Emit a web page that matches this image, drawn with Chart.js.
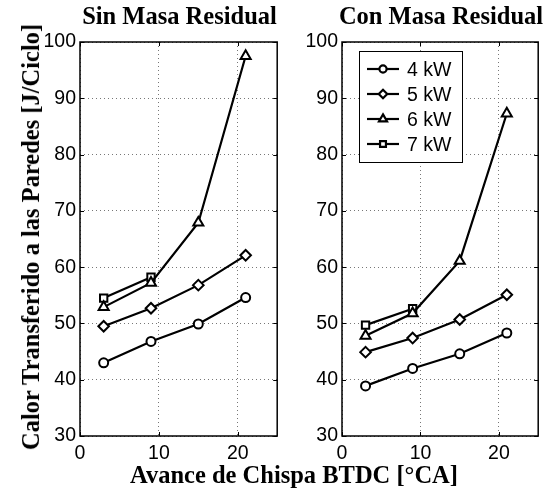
<!DOCTYPE html>
<html>
<head>
<meta charset="utf-8">
<script src="https://cdn.jsdelivr.net/npm/chart.js@4/dist/chart.umd.min.js"></script>
<style>
  body { margin: 0; background: #fff; }
  #wrap { position: relative; width: 546px; height: 495px; background: #fff; overflow: hidden; }
  canvas.panel { position: absolute; top: 0; }
  .titulo { position: absolute; font-family: "Liberation Serif", "Times New Roman", serif; font-weight: bold; font-size: 24.5px; line-height: 24px; color: #000; white-space: nowrap; }
  #leyenda { position: absolute; left: 359px; top: 51px; width: 102px; height: 110px; border: 1px solid #000; background: #fff; }
  .fila { position: absolute; left: 0; height: 20px; display: flex; align-items: center; }
  .fila span { font-family: "Liberation Sans", Arial, sans-serif; font-size: 19.5px; color: #000; margin-left: 7px; }
</style>
</head>
<body>
<div id="wrap">
  <canvas id="sinMasa" class="panel" width="285" height="495" style="left:0px"></canvas>
  <canvas id="conMasa" class="panel" width="261" height="495" style="left:285px"></canvas>

  <div class="titulo" style="left:179.5px; top:4px; transform:translateX(-50%)">Sin Masa Residual</div>
  <div class="titulo" style="left:441px; top:4px; transform:translateX(-50%)">Con Masa Residual</div>
  <div class="titulo" style="left:31px; top:237px; transform:translate(-50%,-50%) rotate(-90deg)">Calor Transferido a las Paredes [J/Ciclo]</div>
  <div class="titulo" style="left:294px; top:463px; transform:translateX(-50%)">Avance de Chispa BTDC [°CA]</div>

  <div id="leyenda"></div>
</div>

<script>
// ---------------- DATA ----------------
const avanceChispa = [3, 9, 15, 21];
const potencias = ["4 kW", "5 kW", "6 kW", "7 kW"];

const sinMasa4kW = [43.0, 46.8, 49.9, 54.6];
const sinMasa5kW = [49.5, 52.7, 56.8, 62.1];
const sinMasa6kW = [52.9, 57.2, 67.9, 97.5];
const sinMasa7kW = [54.5, 58.2];

const conMasa4kW = [38.9, 42.0, 44.6, 48.3];
const conMasa5kW = [44.9, 47.4, 50.7, 55.1];
const conMasa6kW = [47.8, 51.8, 61.1, 87.3];
const conMasa7kW = [49.7, 52.6];

const xTicks = [0, 10, 20];
const yTicks = [30, 40, 50, 60, 70, 80, 90, 100];

// ---------------- STYLE ----------------
const marcadores = ["circle", "rectRot", "triangle", "rect"];
const radios = [4.5, 5.3, 5.8, 5.2];

function puntos(valores) {
    return valores.map((v, i) => ({ x: avanceChispa[i], y: v }));
}

function datasets(series) {
    return series.map((valores, i) => ({
        label: potencias[i],
        data: puntos(valores),
        borderColor: "#000",
        borderWidth: 2.2,
        backgroundColor: "#fff",
        pointStyle: marcadores[i],
        pointRadius: radios[i],
        pointBorderWidth: 2,
        pointBackgroundColor: "#fff",
        pointBorderColor: "#000",
        tension: 0
    }));
}

// frame around the axes plus inward tick marks, like the original
const marcoPlugin = {
    id: "marco",
    afterDraw(chart) {
        const { ctx, chartArea: a, scales } = chart;
        ctx.save();
        ctx.strokeStyle = "#000";
        ctx.lineWidth = 1.5;
        ctx.strokeRect(a.left, a.top, a.right - a.left, a.bottom - a.top);
        ctx.lineWidth = 1;
        ctx.beginPath();
        xTicks.forEach(v => {
            const px = Math.round(scales.x.getPixelForValue(v)) + 0.5;
            ctx.moveTo(px, a.top); ctx.lineTo(px, a.top + 4);
            ctx.moveTo(px, a.bottom); ctx.lineTo(px, a.bottom - 4);
        });
        yTicks.forEach(v => {
            const py = Math.round(scales.y.getPixelForValue(v)) + 0.5;
            ctx.moveTo(a.left, py); ctx.lineTo(a.left + 4, py);
            ctx.moveTo(a.right, py); ctx.lineTo(a.right - 4, py);
        });
        ctx.stroke();
        ctx.restore();
    }
};

function crearPanel(id, series, anchoEjeY) {
    const ctx = document.getElementById(id).getContext("2d");
    return new Chart(ctx, {
        type: "line",
        data: { datasets: datasets(series) },
        options: {
            responsive: false,
            animation: false,
            layout: { padding: { top: 42, right: 6, bottom: 29, left: 0 } },
            plugins: {
                legend: { display: false },
                tooltip: { enabled: false }
            },
            scales: {
                x: {
                    type: "linear",
                    min: 0,
                    max: 25,
                    afterBuildTicks: s => { s.ticks = xTicks.map(v => ({ value: v })); },
                    afterFit: s => { s.height = 30; },
                    ticks: {
                        color: "#000",
                        padding: 6,
                        maxRotation: 0,
                        font: { family: "'Liberation Sans', Arial, sans-serif", size: 19.5 }
                    },
                    grid: { color: "#777", lineWidth: 1, drawTicks: false },
                    border: { display: false, dash: [1, 3] }
                },
                y: {
                    min: 30,
                    max: 100,
                    afterBuildTicks: s => { s.ticks = yTicks.map(v => ({ value: v })); },
                    afterFit: s => { s.width = anchoEjeY; },
                    ticks: {
                        color: "#000",
                        padding: 4,
                        font: { family: "'Liberation Sans', Arial, sans-serif", size: 19.5 }
                    },
                    grid: { color: "#777", lineWidth: 1, drawTicks: false },
                    border: { display: false, dash: [1, 3] }
                }
            }
        },
        plugins: [marcoPlugin]
    });
}

crearPanel("sinMasa", [sinMasa4kW, sinMasa5kW, sinMasa6kW, sinMasa7kW], 80);
crearPanel("conMasa", [conMasa4kW, conMasa5kW, conMasa6kW, conMasa7kW], 57);

// ---------------- LEGEND ----------------
const leyenda = document.getElementById("leyenda");
potencias.forEach((nombre, i) => {
    const fila = document.createElement("div");
    fila.className = "fila";
    fila.style.top = (7 + i * 25) + "px";
    const c = document.createElement("canvas");
    c.width = 40; c.height = 20;
    c.style.width = "40px"; c.style.height = "20px";
    const g = c.getContext("2d");
    g.strokeStyle = "#000";
    g.lineWidth = 2.2;
    g.beginPath(); g.moveTo(7, 10); g.lineTo(39, 10); g.stroke();
    g.fillStyle = "#fff";
    Chart.helpers.drawPoint(g, { pointStyle: marcadores[i], radius: radios[i] * 0.8, borderWidth: 1.8, rotation: 0 }, 23, 10);
    const t = document.createElement("span");
    t.textContent = nombre;
    fila.appendChild(c);
    fila.appendChild(t);
    leyenda.appendChild(fila);
});
</script>
</body>
</html>
